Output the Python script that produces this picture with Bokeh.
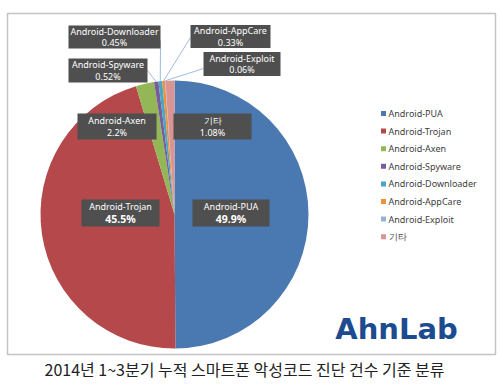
import math
from bokeh.plotting import figure
from bokeh.models import Range1d
from bokeh.embed import file_html
from bokeh.resources import INLINE
from bokeh.core.properties import value

names = ["Android-PUA", "Android-Trojan", "Android-Axen", "Android-Spyware",
         "Android-Downloader", "Android-AppCare", "Android-Exploit", "기타"]
shares = [49.9, 45.5, 2.2, 0.52, 0.45, 0.33, 0.06, 1.08]
pct_labels = ["49.9%", "45.5%", "2.2%", "0.52%", "0.45%", "0.33%", "0.06%", "1.08%"]
colors = ["#4a78b0", "#b5484a", "#93b657", "#7a5c9c", "#46a7c3", "#f0903f", "#95b3d7", "#d99594"]
caption = "2014년 1~3분기 누적 스마트폰 악성코드 진단 건수 기준 분류"
logo = "AhnLab"

W, H = 500, 384
def Y(py):
    return H - py

p = figure(width=W, height=H, output_backend="svg", toolbar_location=None,
           x_range=Range1d(0, W), y_range=Range1d(0, H), min_border=0)
p.axis.visible = False
p.grid.visible = False
p.outline_line_color = None
p.background_fill_color = "white"

# frame
p.quad(left=[7], right=[495], top=[Y(13)], bottom=[Y(354)],
       fill_alpha=0, line_color="#c4c4c4", line_width=1.5)

# pie
cx, cy, r = 174, Y(214), 134
total = sum(shares)
starts, ends, mids = [], [], []
acc = 0.0
for s in shares:
    a0 = acc / total * 2 * math.pi
    acc += s
    a1 = acc / total * 2 * math.pi
    starts.append(math.pi / 2 - a1)
    ends.append(math.pi / 2 - a0)
    mids.append((a0 + a1) / 2)
p.wedge(x=[cx] * len(shares), y=[cy] * len(shares), radius=r,
        start_angle=starts, end_angle=ends, fill_color=colors, line_color=None)

def edge_point(i):
    t = mids[i]
    return cx + r * math.sin(t), cy + r * math.cos(t)

leader = {3: (147, 70), 4: (160, 40), 5: (190, 37), 6: (203, 68)}
for i, (bx, by) in leader.items():
    ex, ey = edge_point(i)
    p.line([bx, ex], [Y(by), ey], line_color="#9dbbe0", line_width=1)

boxes = [
    (4, 114, 36.5, 92, 23),
    (5, 230, 36, 80, 23),
    (6, 241.5, 63.5, 77, 24),
    (3, 107.5, 70, 79, 24),
    (2, 116.5, 126, 79, 26),
    (7, 212, 126, 78, 26),
    (1, 120, 212.5, 78, 27),
    (0, 230.5, 212.5, 77, 27),
]
for i, bx, by, bw, bh in boxes:
    p.rect(x=[bx], y=[Y(by)], width=bw, height=bh, fill_color="#4f4f4f", line_color=None)
    big = i in (0, 1)
    p.text(x=[bx], y=[Y(by - (6 if not big else 6.5))], text=[names[i]],
           text_color="white", text_font=value("Noto Sans"), text_font_size="9px",
           text_font_style="normal", text_align="center", text_baseline="middle")
    p.text(x=[bx], y=[Y(by + (5.5 if not big else 6))], text=[pct_labels[i]],
           text_color="white", text_font=value("Noto Sans"),
           text_font_size="10.5px" if big else "9px",
           text_font_style="bold" if big else "normal",
           text_align="center", text_baseline="middle")

lx, ly0, dy = 383, 113, 17.6
for k, nm in enumerate(names):
    yy = Y(ly0 + k * dy)
    p.scatter(x=[lx], y=[yy], marker="square", size=5, fill_color=colors[k], line_color=None)
    p.text(x=[lx + 5], y=[yy], text=[nm], text_color="#404040",
           text_font=value("Noto Sans"), text_font_size="9px",
           text_align="left", text_baseline="middle")

p.text(x=[396], y=[Y(328)], text=[logo], text_color="#1d4b8f",
       text_font=value("DejaVu Sans"), text_font_size="29px", text_font_style="bold",
       text_align="center", text_baseline="middle")

p.text(x=[244], y=[Y(368)], text=[caption], text_color="#222222",
       text_font=value("Noto Sans CJK KR"), text_font_size="16px",
       text_align="center", text_baseline="middle")

open("out.html", "w").write(file_html(p, INLINE))
